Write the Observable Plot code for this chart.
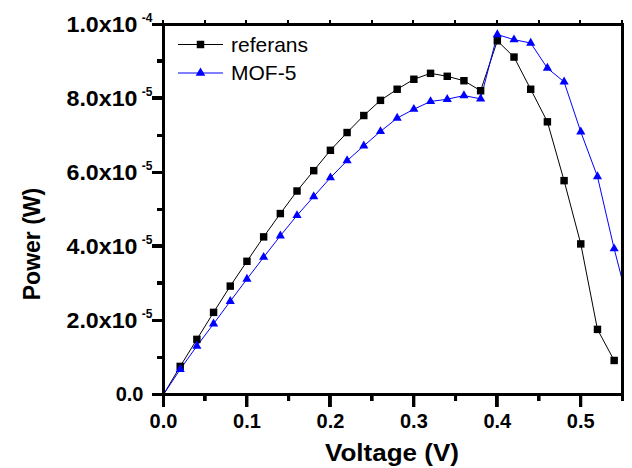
<!DOCTYPE html>
<html>
<head>
<meta charset="utf-8">
<script src="https://cdn.jsdelivr.net/npm/d3@7"></script>
<script src="https://cdn.jsdelivr.net/npm/@observablehq/plot@0.6"></script>
<style>
  html, body { margin: 0; padding: 0; background: #fff; }
  #wrap { position: relative; width: 632px; height: 468px; }
  #wrap > svg { position: absolute; left: 0; top: 0; }
  .ax { position: absolute; background: #000; }
</style>
</head>
<body>
<div id="wrap"></div>
<script>
// Data
const voltage = [0, 0.02, 0.04, 0.06, 0.08, 0.10, 0.12, 0.14, 0.16, 0.18, 0.20, 0.22, 0.24, 0.26,
  0.28, 0.30, 0.32, 0.34, 0.36, 0.38, 0.40, 0.42, 0.44, 0.46, 0.48, 0.50, 0.52, 0.54, 0.56];
const referans = [0, 7.6e-6, 1.49e-5, 2.22e-5, 2.93e-5, 3.60e-5, 4.26e-5, 4.89e-5, 5.50e-5, 6.05e-5,
  6.60e-5, 7.08e-5, 7.54e-5, 7.95e-5, 8.25e-5, 8.52e-5, 8.68e-5, 8.60e-5, 8.48e-5, 8.21e-5,
  9.56e-5, 9.12e-5, 8.25e-5, 7.37e-5, 5.78e-5, 4.07e-5, 1.76e-5, 9.2e-6];
const mof5 = [0, 6.8e-6, 1.31e-5, 1.91e-5, 2.52e-5, 3.12e-5, 3.71e-5, 4.29e-5, 4.84e-5, 5.35e-5,
  5.86e-5, 6.32e-5, 6.72e-5, 7.11e-5, 7.47e-5, 7.71e-5, 7.92e-5, 7.98e-5, 8.08e-5, 7.99e-5,
  9.73e-5, 9.59e-5, 9.50e-5, 8.82e-5, 8.45e-5, 7.10e-5, 5.89e-5, 3.94e-5, 2.2e-5];
const seriesNames = ["referans", "MOF-5"];
const xMajorTicks = [0, 0.1, 0.2, 0.3, 0.4, 0.5];
const xMinorTicks = [0.05, 0.15, 0.25, 0.35, 0.45, 0.55];
const xTickLabels = ["0.0", "0.1", "0.2", "0.3", "0.4", "0.5"];
const yMajorTicks = [0, 2e-5, 4e-5, 6e-5, 8e-5, 1e-4];
const yMinorTicks = [1e-5, 3e-5, 5e-5, 7e-5, 9e-5];
const yMantissa = ["0.0", "2.0x10", "4.0x10", "6.0x10", "8.0x10", "1.0x10"];
const yExponent = ["", "-5", "-5", "-5", "-5", "-4"];
const xTitle = "Voltage (V)";
const yTitle = "Power (W)";

const refData = referans.map((p, i) => ({v: voltage[i], p}));
const mofData = mof5.map((p, i) => ({v: voltage[i], p}));
const xLabels = xMajorTicks.map((t, i) => ({t, s: xTickLabels[i]}));
const yLabels = yMajorTicks.map((t, i) => ({t, m: yMantissa[i], e: yExponent[i]}));

const font = "'Liberation Sans', Arial, sans-serif";
const W = 632, H = 468, mL = 163, mR = 10, mT = 24, mB = 74;
const iw = W - mL - mR, ih = H - mT - mB;

const plot = Plot.plot({
  width: W, height: H, marginLeft: mL, marginRight: mR, marginTop: mT, marginBottom: mB,
  style: {fontFamily: font, background: "white", color: "black"},
  x: {domain: [0, 0.55], axis: null},
  y: {domain: [0, 1e-4], axis: null},
  marks: [
    Plot.ruleX(xMajorTicks, {x: d => d, stroke: "black", strokeWidth: 3, insetTop: ih, insetBottom: -13}),
    Plot.ruleX(xMinorTicks, {x: d => d, stroke: "black", strokeWidth: 3, insetTop: ih, insetBottom: -7}),
    Plot.ruleY(yMajorTicks, {y: d => d, stroke: "black", strokeWidth: 3, insetLeft: -11, insetRight: iw}),
    Plot.ruleY(yMinorTicks, {y: d => d, stroke: "black", strokeWidth: 3, insetLeft: -6, insetRight: iw}),
    Plot.text(xLabels, {x: "t", frameAnchor: "bottom", text: "s", dy: 33, fontSize: 20, fontWeight: "bold", fill: "black"}),
    Plot.text(yLabels.filter(d => d.e !== ""), {y: "t", frameAnchor: "left", text: "m", dx: -26, textAnchor: "end", fontSize: 22, fontWeight: "bold", fill: "black"}),
    Plot.text(yLabels.filter(d => d.e === ""), {y: "t", frameAnchor: "left", text: "m", dx: -20, textAnchor: "end", fontSize: 20, fontWeight: "bold", fill: "black"}),
    Plot.text(yLabels.filter(d => d.e !== ""), {y: "t", frameAnchor: "left", text: "e", dx: -11, dy: -6, textAnchor: "end", fontSize: 12, fontWeight: "bold", fill: "black"}),
    Plot.line(refData, {x: "v", y: "p", stroke: "black", strokeWidth: 1}),
    Plot.line(mofData, {x: "v", y: "p", stroke: "blue", strokeWidth: 1}),
    Plot.dot(refData.filter(d => d.v > 0), {x: "v", y: "p", symbol: "square", r: 4.2, fill: "black", stroke: "none"}),
    Plot.dot(mofData.filter(d => d.v > 0 && d.v <= 0.55), {x: "v", y: "p", symbol: "triangle", r: 3.4, fill: "blue", stroke: "none"}),
    Plot.frame({stroke: "black", strokeWidth: 3})
  ]
});

const svg = d3.select(plot);
const sx = plot.scale("x"), sy = plot.scale("y");
const X = v => sx.apply(v), Y = v => sy.apply(v);
const x0 = X(0), x1 = X(0.55), y0 = Y(0), y1 = Y(1e-4);

svg.append("rect").attr("x", x1 + 1.5).attr("y", 0).attr("width", W - x1).attr("height", H).attr("fill", "white");

svg.selectAll("text").filter(function() { return yMantissa.slice(1).includes(this.textContent); })
  .attr("textLength", 71).attr("lengthAdjust", "spacingAndGlyphs");
const legend = svg.append("g").attr("font-family", font).attr("font-size", 21).attr("text-anchor", "start");
const rows = [
  {name: seriesNames[0], color: "black", symbol: d3.symbolSquare, size: 56, y: 44.5},
  {name: seriesNames[1], color: "blue", symbol: d3.symbolTriangle, size: 40, y: 73}
];
rows.forEach(r => {
  legend.append("line").attr("x1", 178).attr("x2", 223).attr("y1", r.y).attr("y2", r.y)
    .attr("stroke", r.color).attr("stroke-width", 1);
  legend.append("path").attr("d", d3.symbol(r.symbol, r.size)())
    .attr("transform", `translate(200.5,${r.y})`).attr("fill", r.color);
  legend.append("text").attr("x", 231).attr("y", r.y + 7).attr("fill", "black").text(r.name);
});
svg.append("text").attr("x", 392).attr("y", 461).attr("text-anchor", "middle")
  .attr("font-family", font).attr("font-weight", "bold").attr("font-size", 24).attr("fill", "black")
  .attr("textLength", 134).attr("lengthAdjust", "spacingAndGlyphs").text(xTitle);
svg.append("text").attr("transform", "translate(40,244) rotate(-90)").attr("text-anchor", "middle")
  .attr("font-family", font).attr("font-weight", "bold").attr("font-size", 23).attr("fill", "black").text(yTitle);

const wrap = document.getElementById("wrap");
wrap.appendChild(plot);

// axis box and ticks as an HTML overlay, positioned with the plot's scales
const bar = (x, y, w, h) => {
  const d = document.createElement("div");
  d.className = "ax";
  d.style.left = Math.round(x) + "px"; d.style.top = Math.round(y) + "px";
  d.style.width = Math.round(w) + "px"; d.style.height = Math.round(h) + "px";
  wrap.appendChild(d);
};
bar(x0 - 1.5, y1 - 1.5, x1 - x0 + 3, 3);
bar(x0 - 1.5, y0 - 1.5, x1 - x0 + 3, 3);
bar(x0 - 1.5, y1 - 1.5, 3, y0 - y1 + 3);
bar(x1 - 1.5, y1 - 1.5, 3, y0 - y1 + 3);
xMajorTicks.forEach(t => bar(X(t) - 1.5, y0, 3, 13));
xMinorTicks.forEach(t => bar(X(t) - 1.5, y0, 3, 7));
[...xMajorTicks, ...xMinorTicks].forEach(t => bar(X(t) - 1, y1 - 4, 2, 3));
yMajorTicks.forEach(t => bar(x0 - 11, Y(t) - 1.5, 11, 3));
yMinorTicks.forEach(t => bar(x0 - 6, Y(t) - 1.5, 6, 3));
</script>
</body>
</html>
